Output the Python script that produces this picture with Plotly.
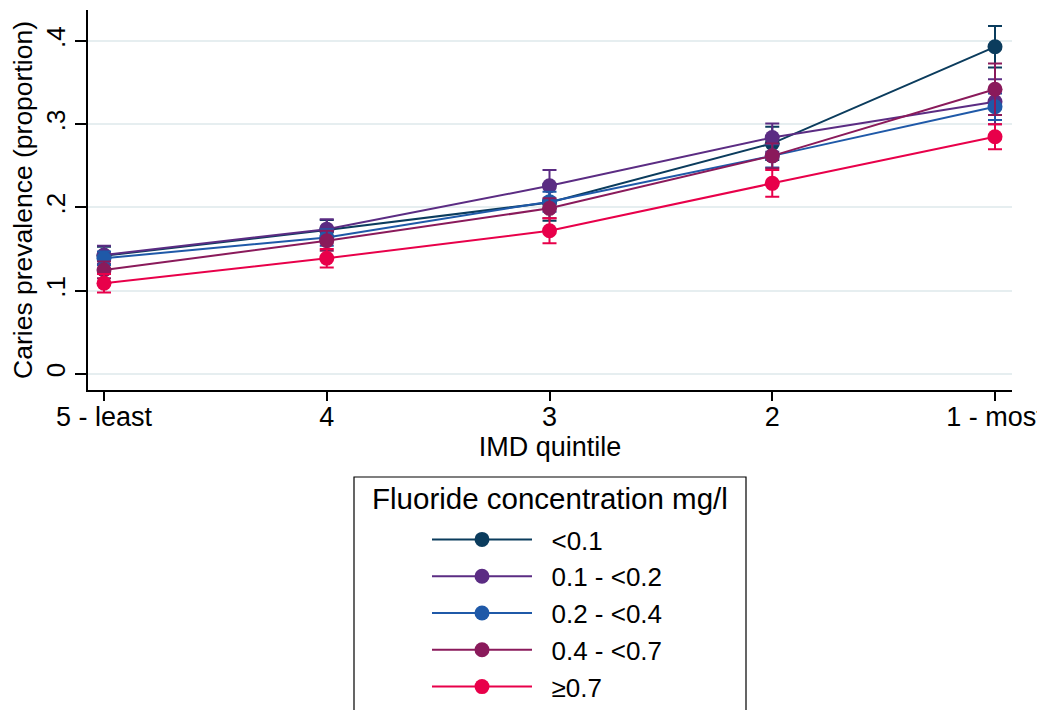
import plotly.graph_objects as go

categories = ["5 - least", "4", "3", "2", "1 - most"]
series_names = ["<0.1", "0.1 - <0.2", "0.2 - <0.4", "0.4 - <0.7", "≥0.7"]
series_colors = ["#0b3c5d", "#5b2c83", "#1f59a8", "#8a1a5b", "#e8004a"]

prev_lt01 = [0.142, 0.173, 0.206, 0.277, 0.393]
prev_01_02 = [0.143, 0.174, 0.226, 0.284, 0.327]
prev_02_04 = [0.139, 0.164, 0.207, 0.262, 0.321]
prev_04_07 = [0.125, 0.160, 0.199, 0.262, 0.342]
prev_ge07 = [0.109, 0.139, 0.172, 0.229, 0.285]

ci_lt01 = [0.011, 0.012, 0.022, 0.020, 0.025]
ci_01_02 = [0.011, 0.012, 0.019, 0.017, 0.027]
ci_02_04 = [0.008, 0.010, 0.012, 0.014, 0.016]
ci_04_07 = [0.010, 0.012, 0.012, 0.015, 0.031]
ci_ge07 = [0.011, 0.011, 0.015, 0.016, 0.015]

y_tickvals = [0, 0.1, 0.2, 0.3, 0.4]
y_ticktext = ["0", ".1", ".2", ".3", ".4"]

values = [prev_lt01, prev_01_02, prev_02_04, prev_04_07, prev_ge07]
cis = [ci_lt01, ci_01_02, ci_02_04, ci_04_07, ci_ge07]

FONT = "Liberation Sans, Arial, sans-serif"
xpos = list(range(len(categories)))

fig = go.Figure()
for name, color, v, c in zip(series_names, series_colors, values, cis):
    fig.add_trace(go.Scatter(
        x=xpos, y=v, name="\u00a0\u00a0" + name, mode="lines+markers",
        line=dict(color=color, width=2),
        marker=dict(color=color, size=15),
        error_y=dict(type="data", array=c, visible=True, color=color,
                     thickness=2, width=7),
    ))

# page offset of the plot div (body margin) is 8px
OFF = 8
W, H = 1045 - OFF, 710 - OFF
# plot area in page pixels: x 88..1012, y 10..390
L, R, T, B = 88, 1012, 10, 390

def px(x):
    return (x - L) / (R - L)

def py(y):
    return (B - y) / (B - T)

fig.update_layout(
    width=W, height=H,
    margin=dict(l=L - OFF, r=W - (R - OFF), t=T - OFF, b=H - (B - OFF), autoexpand=False),
    paper_bgcolor="white", plot_bgcolor="white",
    font=dict(family=FONT, size=26, color="black"),
    showlegend=True,
    legend=dict(
        x=px(427), y=py(516), xanchor="left", yanchor="top",
        bgcolor="rgba(0,0,0,0)", borderwidth=0,
        font=dict(family=FONT, size=26, color="black"),
        itemwidth=100, tracegroupgap=0,
    ),
    shapes=[dict(type="rect", xref="paper", yref="paper",
                 x0=px(354), x1=px(746), y0=py(780), y1=py(477),
                 line=dict(color="black", width=1.2), fillcolor="rgba(0,0,0,0)")],
    annotations=[dict(text="Fluoride concentration mg/l", xref="paper", yref="paper",
                      x=px(550), y=py(498), xanchor="center", yanchor="middle",
                      showarrow=False, font=dict(family=FONT, size=29.5, color="black"))],
)

fig.update_xaxes(
    range=[-0.0718, 4.0763], tickmode="array", tickvals=xpos, ticktext=categories,
    showline=True, linecolor="black", linewidth=1.5, ticks="outside", ticklen=9,
    tickcolor="black", tickwidth=1.5, showgrid=False, zeroline=False, automargin=False,
    ticklabelstandoff=-7,
    title=dict(text="IMD quintile", font=dict(family=FONT, size=27), standoff=4),
    tickfont=dict(family=FONT, size=27),
)
fig.update_yaxes(
    range=[-0.0192, 0.4372], tickmode="array", tickvals=y_tickvals, ticktext=y_ticktext,
    tickangle=-90, showline=True, linecolor="black", linewidth=1.5, ticks="outside",
    ticklen=11, tickcolor="black", tickwidth=1.5, showgrid=True, gridcolor="#e6eef0",
    gridwidth=1.5, zeroline=False, automargin=False,
    title=dict(text="Caries prevalence (proportion)", font=dict(family=FONT, size=26.5), standoff=9),
    tickfont=dict(family=FONT, size=26),
)

fig.write_html("out.html")
